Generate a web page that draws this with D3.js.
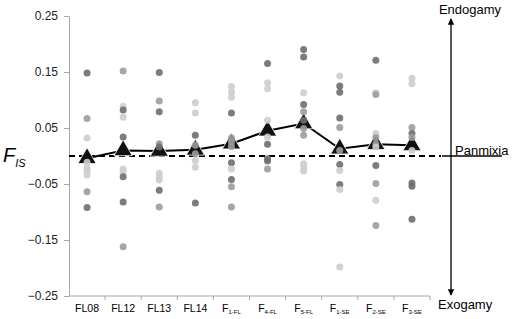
<!DOCTYPE html>
<html><head><meta charset="utf-8">
<script src="https://cdn.jsdelivr.net/npm/d3@7"></script>
<style>html,body{margin:0;padding:0;background:#fff;}svg{display:block;}</style>
</head><body>
<svg id="chart" width="512" height="319"></svg>
<script>
// ---- data ----
const categories = ["FL08","FL12","FL13","FL14","F|1-FL","F|4-FL","F|5-FL","F|1-SE","F|2-SE","F|3-SE"];
const means = [-0.004, 0.010, 0.009, 0.011, 0.022, 0.045, 0.058, 0.013, 0.021, 0.019];
const dotValues = [
  [0.148, 0.067, 0.032, -0.011, -0.021, -0.026, -0.034, -0.064, -0.092],
  [0.152, 0.089, 0.082, 0.069, 0.034, -0.023, -0.029, -0.037, -0.082, -0.162],
  [0.149, 0.098, 0.079, 0.022, 0.016, -0.031, -0.037, -0.043, -0.061, -0.091],
  [0.095, 0.077, 0.037, 0.019, 0.004, -0.008, -0.020, -0.084],
  [0.124, 0.114, 0.105, 0.077, 0.032, 0.025, 0.017, -0.012, -0.023, -0.042, -0.055, -0.091],
  [0.165, 0.131, 0.120, 0.064, 0.034, 0.021, -0.005, -0.009, -0.023],
  [0.190, 0.177, 0.113, 0.092, 0.079, 0.064, 0.049, 0.037, -0.014, -0.021, -0.027],
  [0.143, 0.125, 0.114, 0.068, 0.051, 0.010, -0.015, -0.026, -0.051, -0.060, -0.198],
  [0.171, 0.113, 0.110, 0.040, 0.033, 0.022, 0.016, -0.017, -0.049, -0.079, -0.124],
  [0.139, 0.129, 0.051, 0.040, 0.033, 0.010, -0.048, -0.054, -0.113]
];
const dotGroup = [
  [0,1,2,2,2,2,2,1,0],
  [1,2,0,2,0,2,2,0,0,1],
  [0,1,0,1,0,2,2,2,0,1],
  [2,2,0,1,1,2,2,0],
  [2,2,2,0,1,1,1,0,2,0,1,1],
  [0,2,2,2,2,0,0,0,1],
  [0,0,2,0,1,0,1,1,2,2,2],
  [2,0,0,0,1,1,0,2,0,2,2],
  [0,2,1,2,1,1,2,0,1,2,1],
  [2,2,1,0,1,2,0,0,0]
];
const yTicks = [0.25, 0.15, 0.05, -0.05, -0.15, -0.25];
const sideLabels = {top: "Endogamy", mid: "Panmixia", bottom: "Exogamy"};

// ---- drawing ----
const svg = d3.select("#chart");
const groupColor = ["#6e6e6e", "#9c9c9c", "#cdcdcd"];
const axisColor = "#a6a6a6";
const font = "'Liberation Sans', Arial, sans-serif";

const x = d3.scaleBand().domain(categories).range([69, 430]).padding(0);
const y = d3.scaleLinear().domain([-0.25, 0.25]).range([296, 16]);

// y axis
const yAxis = d3.axisLeft(y).tickValues(yTicks).tickSize(5).tickSizeOuter(0)
  .tickFormat(d3.format(".2f"));
const gy = svg.append("g").attr("transform", "translate(69,0)").call(yAxis);
gy.select(".domain").attr("stroke", axisColor);
gy.selectAll(".tick line").attr("stroke", axisColor);
gy.selectAll(".tick text").attr("font-family", font).attr("font-size", 12)
  .attr("fill", "#222").attr("x", -11);

// x axis
const gx = svg.append("g").attr("transform", "translate(0,296)");
gx.append("line").attr("x1", 69).attr("x2", 430).attr("stroke", axisColor);
const bounds = categories.map(c => x(c) + x.bandwidth());
gx.selectAll("line.tk").data(bounds).join("line").attr("class", "tk")
  .attr("x1", d => d).attr("x2", d => d).attr("y1", 0).attr("y2", 4).attr("stroke", axisColor);
const xl = gx.selectAll("text.xl").data(categories).join("text").attr("class", "xl")
  .attr("x", d => x(d) + x.bandwidth() / 2).attr("y", 16)
  .attr("text-anchor", "middle").attr("font-family", font).attr("font-size", 10.5).attr("fill", "#000");
xl.each(function(d) {
  const t = d3.select(this);
  const parts = d.split("|");
  t.append("tspan").text(parts[0]);
  if (parts[1]) t.append("tspan").attr("font-size", 6).attr("dy", 2).text(parts[1]);
});

// zero (panmixia) dashed line
svg.append("line").attr("x1", 69).attr("x2", 441).attr("y1", y(0)).attr("y2", y(0))
  .attr("stroke", "#000").attr("stroke-width", 2).attr("stroke-dasharray", "6,4");
svg.append("line").attr("x1", 442).attr("x2", 502).attr("y1", y(0)).attr("y2", y(0))
  .attr("stroke", "#000").attr("stroke-width", 1.3);

// mean line
const cx = d => x(d) + x.bandwidth() / 2;
svg.append("path").datum(categories.map((c, i) => [cx(c), y(means[i])]))
  .attr("d", d3.line()).attr("fill", "none").attr("stroke", "#000").attr("stroke-width", 2);

// mean triangles
const tri = d3.symbol().type(d3.symbolTriangle).size(145);
svg.selectAll("path.tri").data(categories).join("path").attr("class", "tri")
  .attr("d", tri).attr("transform", (c, i) => `translate(${cx(c)},${y(means[i])})`)
  .attr("fill", "#111").attr("stroke", "#fff").attr("stroke-width", 0.8);

// dots
const dots = [];
categories.forEach((c, i) => dotValues[i].forEach((v, j) => dots.push({c, v, g: dotGroup[i][j]})));
svg.selectAll("circle.dot").data(dots).join("circle").attr("class", "dot")
  .attr("cx", d => cx(d.c)).attr("cy", d => y(d.v)).attr("r", 3.5)
  .attr("fill", d => groupColor[d.g]).attr("fill-opacity", 0.9);

// y label F_IS
const yl = svg.append("text").attr("x", 3).attr("y", 162).attr("font-family", font)
  .attr("font-style", "italic").attr("fill", "#000");
yl.append("tspan").attr("font-size", 20).text("F");
yl.append("tspan").attr("font-size", 11).attr("dy", 5).text("IS");

// right arrow
svg.append("defs").html(
  '<marker id="ah" viewBox="0 0 10 10" refX="9" refY="5" markerWidth="5" markerHeight="6" orient="auto-start-reverse"><path d="M0,0 L10,5 L0,10 z" fill="#000"/></marker>');
svg.append("line").attr("x1", 451).attr("x2", 451).attr("y1", 19).attr("y2", 295)
  .attr("stroke", "#000").attr("stroke-width", 1.3)
  .attr("marker-start", "url(#ah)").attr("marker-end", "url(#ah)");

svg.append("text").attr("x", 470).attr("y", 14).attr("text-anchor", "middle")
  .attr("font-family", font).attr("font-size", 13).text(sideLabels.top);
svg.append("text").attr("x", 455).attr("y", 155)
  .attr("font-family", font).attr("font-size", 13).text(sideLabels.mid);
svg.append("text").attr("x", 438).attr("y", 309)
  .attr("font-family", font).attr("font-size", 13).text(sideLabels.bottom);
</script>
</body></html>
